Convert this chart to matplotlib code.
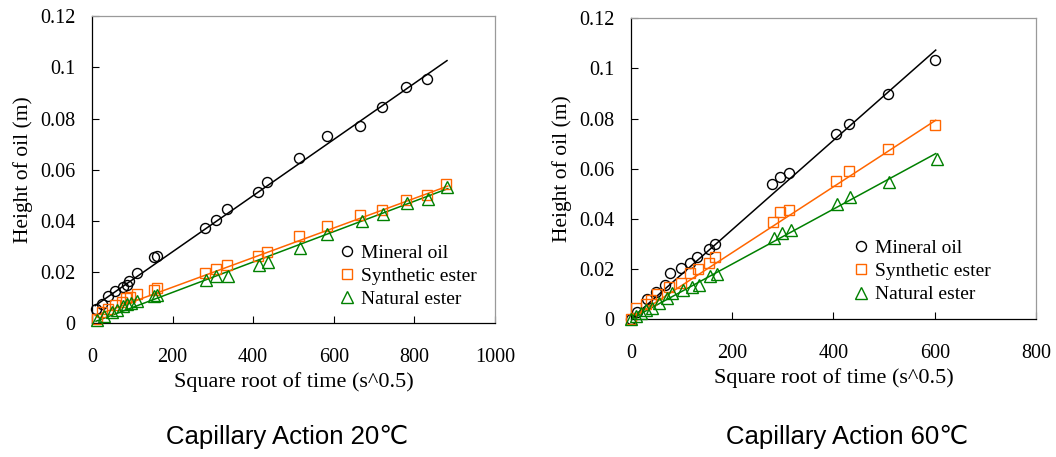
import numpy as np
import matplotlib.pyplot as plt
from matplotlib.ticker import FuncFormatter

# ---- data ----
# Capillary action 20 C
x20_min = [10, 24, 40, 57, 78, 86, 93, 111, 154, 162, 280, 307, 336, 412, 435, 514, 584, 665, 720, 780, 831]
y20_min = [0.0054, 0.0073, 0.0102, 0.0122, 0.0139, 0.0148, 0.0161, 0.0195, 0.0257, 0.0261, 0.0372,
           0.0401, 0.0447, 0.0512, 0.0552, 0.0647, 0.0731, 0.0772, 0.0844, 0.0922, 0.0956]
x20_syn = [12, 26, 40, 57, 74, 84, 94, 111, 154, 162, 280, 307, 336, 412, 435, 514, 584, 665, 720, 780, 831, 878]
y20_syn = [0.0014, 0.0041, 0.0054, 0.0067, 0.0080, 0.0096, 0.0100, 0.0110, 0.0128, 0.0136, 0.0194,
           0.0211, 0.0224, 0.0261, 0.0276, 0.0339, 0.0379, 0.0421, 0.0440, 0.0479, 0.0499, 0.0542]
x20_nat = [13, 30, 49, 63, 78, 86, 96, 112, 154, 162, 283, 309, 338, 415, 437, 517, 584, 669, 722, 782, 834, 881]
y20_nat = [0.0010, 0.0027, 0.0041, 0.0050, 0.0063, 0.0071, 0.0076, 0.0086, 0.0102, 0.0106, 0.0165,
           0.0181, 0.0181, 0.0224, 0.0237, 0.0293, 0.0346, 0.0398, 0.0424, 0.0470, 0.0483, 0.0532]
# trend lines (end points)
fit20_x = [[8, 881], [8, 883], [10, 883]]
fit20_y = [[0.0066, 0.1027], [0.0027, 0.0535], [0.0005, 0.0525]]

# Capillary action 60 C
x60_min = [0, 12, 32, 49, 68, 78, 98, 116, 131, 154, 166, 279, 295, 312, 406, 431, 507, 601]
y60_min = [0.0, 0.0029, 0.0079, 0.0109, 0.0136, 0.0183, 0.0205, 0.0225, 0.0247, 0.0280, 0.0300,
           0.0540, 0.0567, 0.0583, 0.0739, 0.0780, 0.0899, 0.1035]
x60_syn = [0, 10, 29, 39, 52, 75, 98, 117, 132, 155, 167, 281, 295, 312, 406, 431, 507, 601]
y60_syn = [0.0, 0.0043, 0.0060, 0.0076, 0.0099, 0.0127, 0.0143, 0.0185, 0.0199, 0.0225, 0.0247,
           0.0389, 0.0425, 0.0433, 0.0549, 0.0589, 0.0679, 0.0773]
x60_nat = [0, 9, 19, 29, 42, 55, 72, 82, 103, 121, 134, 157, 169, 283, 298, 316, 408, 432, 509, 604]
y60_nat = [0.0, 0.0012, 0.0023, 0.0036, 0.0043, 0.0063, 0.0083, 0.0103, 0.0116, 0.0129, 0.0136,
           0.0172, 0.0179, 0.0323, 0.0343, 0.0356, 0.0460, 0.0487, 0.0545, 0.0639]
fit60_x = [[0, 602], [0, 602], [0, 602]]
fit60_y = [[0.0, 0.1073], [0.0002, 0.0793], [0.0, 0.0660]]

labels = ['Mineral oil', 'Synthetic ester', 'Natural ester']
titles = ['Capillary Action 20\u2103', 'Capillary Action 60\u2103']

colors = ['black', '#ff6600', '#008000']
markers = ['o', 's', '^']
msizes = [7.2, 6.8, 8]

serif = ['Liberation Serif', 'DejaVu Serif']
sans = ['Liberation Sans', 'DejaVu Sans']
plt.rcParams['font.family'] = serif

fig = plt.figure(figsize=(10.56, 4.57), dpi=100)
ax1 = fig.add_axes([0.0871, 0.2943, 0.3816, 0.6696])
ax2 = fig.add_axes([0.5975, 0.3020, 0.3835, 0.6580])

panels = [
    (ax1, [(x20_min, y20_min), (x20_syn, y20_syn), (x20_nat, y20_nat)], fit20_x, fit20_y, 1000, (0.609, 0.152)),
    (ax2, [(x60_min, y60_min), (x60_syn, y60_syn), (x60_nat, y60_nat)], fit60_x, fit60_y, 800, (0.544, 0.158)),
]

for ax, series, fx, fy, xmax, legpos in panels:
    for i, (xs, ys) in enumerate(series):
        ax.plot(fx[i], fy[i], color=colors[i], lw=1.1, zorder=2)
        ax.plot(xs, ys, ls='none', marker=markers[i], ms=msizes[i], mfc='none',
                mec=colors[i], mew=1.0, label=labels[i], clip_on=False, zorder=3)
    ax.set_xlim(0, xmax)
    ax.set_ylim(0, 0.12)
    ax.set_xticks(np.arange(0, xmax + 1, 200))
    ax.set_yticks(np.arange(0, 0.121, 0.02))
    ax.yaxis.set_major_formatter(FuncFormatter(lambda v, p: '%g' % round(v, 4)))
    ax.tick_params(direction='in', length=5, width=0.8, labelsize=14.5)
    ax.tick_params(axis='x', pad=18)
    ax.tick_params(axis='y', pad=12)
    for s in ['left', 'bottom']:
        ax.spines[s].set_color('black')
        ax.spines[s].set_linewidth(0.9)
    for s in ['top', 'right']:
        ax.spines[s].set_color('#9a9a9a')
        ax.spines[s].set_linewidth(0.9)
    ax.set_xlabel('Square root of time (s^0.5)', fontsize=16, labelpad=4)
    ax.set_ylabel('Height of oil (m)', fontsize=15.5, labelpad=5)
    ax.legend(loc='center left', bbox_to_anchor=legpos, frameon=False, fontsize=14,
              borderpad=0, borderaxespad=0, handlelength=1.0, handletextpad=0.2,
              labelspacing=0.28)

fig.text(0.272, 1 - 437 / 457, titles[0], fontsize=18.5, family=sans, ha='center', va='center')
fig.text(0.802, 1 - 437 / 457, titles[1], fontsize=18.5, family=sans, ha='center', va='center')

fig.savefig('out.png', dpi=100)
